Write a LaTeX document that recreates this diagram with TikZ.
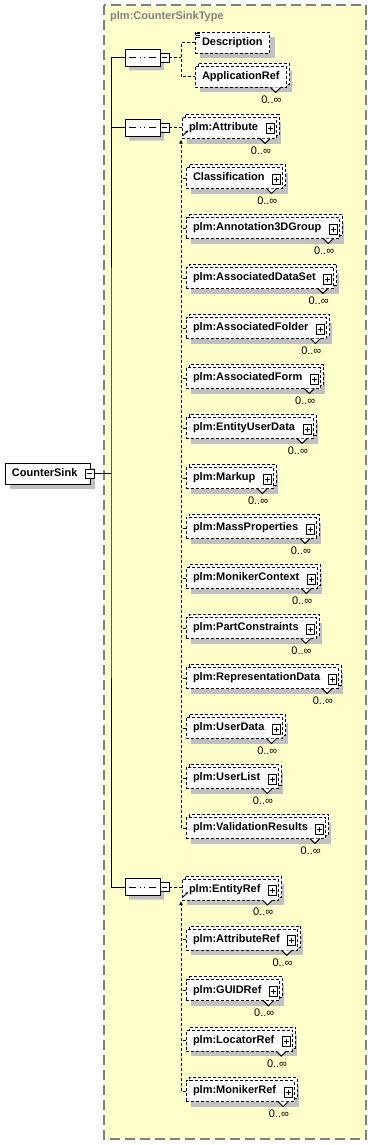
\documentclass[tikz,border=0pt]{standalone}
\usepackage{fontspec}
\setmainfont{Liberation Sans}
\usetikzlibrary{arrows.meta,shapes.misc,positioning,calc,shadows}
\definecolor{PaleY} {RGB}{255,255,204}
\definecolor{FrameG}{RGB}{128,128,128}
\definecolor{ShadeG}{RGB}{192,192,192}
\newcommand{\elfont}{\fontsize{11}{13}\selectfont\bfseries}

% plus box at the right end of an element
\newcommand{\plusicon}[1]{%
  \draw[line width=1pt,fill=white] ($(#1.east)+(-10,-4)$) rectangle ++(8,10);
  \draw[line width=1pt] ($(#1.east)+(-6,-1.5)$) -- ++(0,5)
                        ($(#1.east)+(-8.5,1)$) -- ++(5,0);}
% notch and 0..oo under a repeated element
\newcommand{\occurs}[1]{%
  \filldraw[line width=1pt,fill=white] ($(#1.south east)+(-16,0)$) -- ++(5,5) -- ++(5,-5);
  \node[occ,anchor=east] (#1-occ) at ($(#1.south east)+(-5,12)$) {0..∞};}

\begin{document}
\begin{tikzpicture}[x=1pt,y=-1pt,
  elem/.style={draw,line width=1pt,dash pattern=on 3pt off 2pt,fill=white,
    font=\elfont,anchor=west,minimum height=21pt,inner xsep=7pt,inner ysep=0pt,
    outer sep=0pt,text height=8pt,text depth=2.5pt,
    drop shadow={shadow xshift=5pt,shadow yshift=-5pt,fill=ShadeG,opacity=1}},
  multi/.style={elem,copy shadow={shadow xshift=3pt,shadow yshift=3pt,draw=black,
    fill=white,line width=1pt,dash pattern=on 3pt off 2pt}},
  rootbox/.style={elem,solid},
  conn/.style={line width=1pt,dash pattern=on 3pt off 2pt},
  spine/.style={line width=1pt},
  seqbox/.style={chamfered rectangle,chamfered rectangle xsep=5pt,draw,line width=1pt,
    fill=white,minimum width=35pt,minimum height=17pt,inner sep=0pt,outer sep=0pt,
    drop shadow={shadow xshift=4pt,shadow yshift=-4pt,fill=ShadeG,opacity=1},
    path picture={
      \draw[line width=1pt] ([xshift=4pt]path picture bounding box.west)
        -- ([xshift=-4pt]path picture bounding box.east);
      \foreach \d in {-4.5,0,4.5}
        \fill ([xshift=\d pt]path picture bounding box.center)
          +(-1.75pt,-1.6pt) rectangle +(1.75pt,1.6pt);}},
  foldbox/.style={draw,line width=1pt,fill=white,minimum size=9pt,inner sep=0pt,
    outer sep=0pt,anchor=west,
    path picture={\draw[line width=1pt] ([xshift=2pt]path picture bounding box.west)
      -- ([xshift=-2pt]path picture bounding box.east);}},
  occ/.style={font=\fontsize{11}{13}\selectfont,inner sep=0pt}]

\useasboundingbox (0,0) rectangle (373,1145);
\fill[PaleY] (104,5) rectangle (366,1139);
\draw[FrameG,line width=1.5pt,dash pattern=on 10pt off 5pt] (104,5) rectangle (366,1139);
\node[anchor=west,font=\elfont,text=FrameG,inner sep=0pt] (title) at (110,17) {plm:CounterSinkType};

% root element
\node[rootbox] (cs) at (5,473.5) {CounterSink\kern6pt};
\node[foldbox] (cs-fold) at ($(cs.east)+(-5,0)$) {};
\coordinate (spine) at (111,473.5);

% sequences
\node[seqbox] (seq1) at (142.5,58) {};
\node[foldbox] (seq1-fold) at (seq1.east) {};
\node[seqbox] (seq2) at (142.5,128) {};
\node[foldbox] (seq2-fold) at (seq2.east) {};
\node[seqbox] (seq3) at (142.5,887) {};
\node[foldbox] (seq3-fold) at (seq3.east) {};

\draw[spine] (cs-fold.east) -- (spine);
\draw[spine] (seq1.west) -| (spine) |- (seq3.west);
\draw[spine] (seq2.west) -- (seq2.west -| spine);

% first sequence
\node[elem] (desc) at (195,43) {Description};
\node[multi] (appref) at (195,77) {ApplicationRef};
\occurs{appref}
\draw[line width=1pt] ($(desc.north west)+(1,1.5)$) -- ++(4,0) ++(-4,2) -- ++(4,0)
  ++(-4,2) -- ++(4,0);
\coordinate (j1) at (181,58);
\draw[conn] (seq1-fold.east) -- (j1);
\draw[conn] (desc.west) -| (j1) |- (appref.west);

% second sequence
\coordinate (j2) at (181,128);
\foreach \txt [count=\k] in {plm:Attribute,Classification,plm:Annotation3DGroup,
    plm:AssociatedDataSet,plm:AssociatedFolder,plm:AssociatedForm,
    plm:EntityUserData,plm:Markup,plm:MassProperties,plm:MonikerContext,
    plm:PartConstraints,plm:RepresentationData,plm:UserData,plm:UserList,
    plm:ValidationResults}{
  \pgfmathsetmacro{\yy}{128+50*(\k-1)}
  \ifnum\k=1 \def\xx{182}\else\def\xx{186}\fi
  \node[multi] (g2-\k) at (\xx,\yy) {\txt\kern11pt};
  \plusicon{g2-\k}
  \occurs{g2-\k}
  \ifnum\k>1 \draw[conn] (g2-\k.west) -- (g2-\k.west -| j2);\fi
}
\draw[conn] (seq2-fold.east) -- (seq2-fold.east -| g2-1.west);
\draw[conn,-{Latex[length=4pt,width=4pt]}] (g2-15.west -| j2) -- ($(g2-1.south -| j2)+(0,1)$);
\draw[line width=1pt,-{Stealth[length=3pt,width=3pt]}] ($(g2-1.south west)+(1,-3)$) -- ++(5,-5);

% third sequence
\coordinate (j3) at (181,889.5);
\foreach \txt [count=\k] in {plm:EntityRef,plm:AttributeRef,plm:GUIDRef,
    plm:LocatorRef,plm:MonikerRef}{
  \pgfmathsetmacro{\yy}{889.5+50.4*(\k-1)}
  \ifnum\k=1 \def\xx{182}\else\def\xx{186}\fi
  \node[multi] (g3-\k) at (\xx,\yy) {\txt\kern11pt};
  \plusicon{g3-\k}
  \occurs{g3-\k}
  \ifnum\k>1 \draw[conn] (g3-\k.west) -- (g3-\k.west -| j3);\fi
}
\draw[conn] (seq3-fold.east) -- (seq3-fold.east -| g3-1.west);
\draw[conn,-{Latex[length=4pt,width=4pt]}] (g3-5.west -| j3) -- ($(g3-1.south -| j3)+(0,1)$);
\draw[line width=1pt,-{Stealth[length=3pt,width=3pt]}] ($(g3-1.south west)+(1,-3)$) -- ++(5,-5);
\end{tikzpicture}
\end{document}
